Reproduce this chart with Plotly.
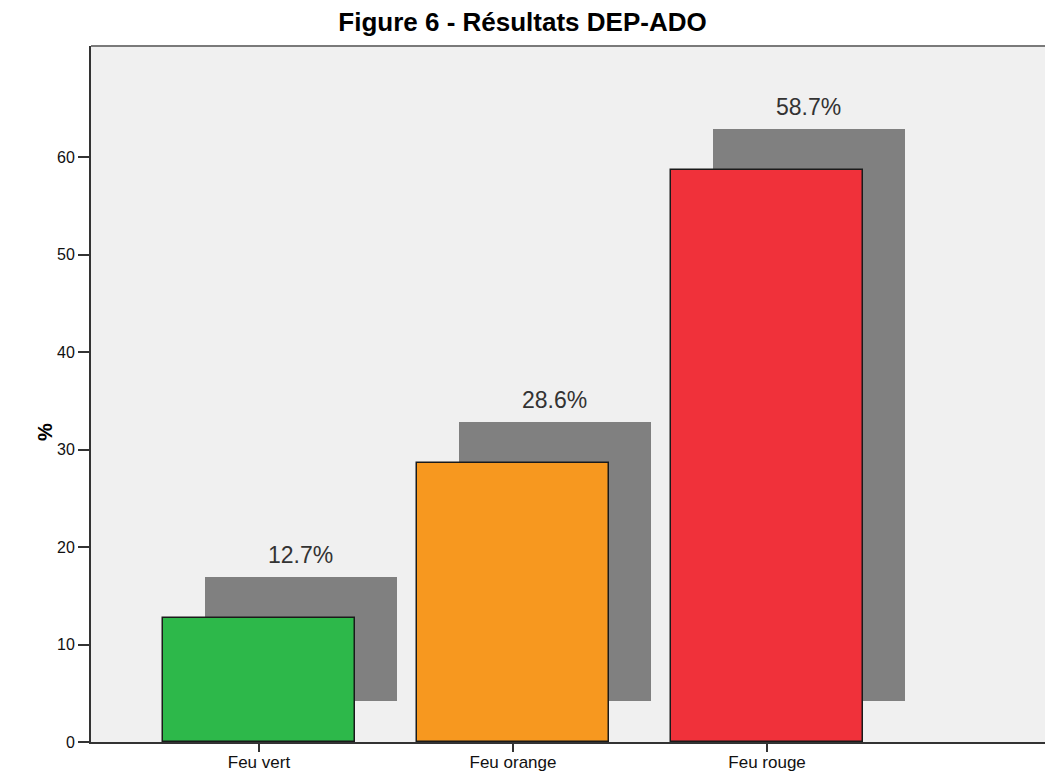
import plotly.graph_objects as go

categories = ["Feu vert", "Feu orange", "Feu rouge"]
values = [12.7, 28.6, 58.7]
labels = ["12.7%", "28.6%", "58.7%"]
colors = ["#2db84a", "#f7981f", "#f0313a"]
y_ticks = [0, 10, 20, 30, 40, 50, 60]

SHADOW_DX = 0.165
SHADOW_DY = 4.2
BAR_W = 0.756

xs = list(range(len(categories)))

fig = go.Figure()
# shadows
fig.add_trace(go.Bar(
    x=[x + SHADOW_DX for x in xs], y=values, base=[SHADOW_DY] * len(values),
    width=BAR_W, marker=dict(color="#808080", line=dict(width=0)),
    hoverinfo="skip", showlegend=False))
# main bars
fig.add_trace(go.Bar(
    x=xs, y=values, width=BAR_W,
    marker=dict(color=colors, line=dict(color="#1a1a1a", width=1.5)),
    showlegend=False))

for x, v, t in zip(xs, values, labels):
    fig.add_annotation(x=x + SHADOW_DX, y=v + SHADOW_DY, text=t, showarrow=False,
                       yanchor="bottom", yshift=7,
                       font=dict(family="Liberation Sans, Arial", size=23, color="#333333"))

fig.add_shape(type="line", xref="paper", yref="paper", x0=0, x1=1, y0=1, y1=1,
              line=dict(color="#7a7a7a", width=2))

fig.add_annotation(xref="paper", yref="paper", x=(45 - 91) / 954, y=(742 - 432) / 696,
                   text="<b>%</b>", textangle=-90, showarrow=False,
                   xanchor="center", yanchor="middle",
                   font=dict(family="Liberation Sans, Arial", size=20, color="#000000"))

fig.update_layout(
    width=1045, height=774,
    margin=dict(l=91, r=0, t=46, b=32, autoexpand=False),
    paper_bgcolor="white", plot_bgcolor="#f0f0f0",
    barmode="overlay", bargap=0,
    title=dict(text="<b>Figure 6 - Résultats DEP-ADO</b>", x=0.5, xref="container",
               xanchor="center", y=1 - 22 / 774, yref="container", yanchor="middle",
               font=dict(family="Liberation Sans, Arial", size=26, color="#000000")),
    font=dict(family="Liberation Sans, Arial", size=16, color="#222222"),
)
fig.update_xaxes(range=[-0.661, 3.094], tickvals=xs, ticktext=categories, automargin=False,
                 showgrid=False, zeroline=False, showline=True, linecolor="#333333",
                 linewidth=2, ticks="outside", ticklen=8, tickwidth=2, tickcolor="#333333",
                 ticklabelstandoff=-4,
                 tickfont=dict(size=17, color="#111111"), fixedrange=True)
fig.update_yaxes(range=[0, 71.4], tickvals=y_ticks, showgrid=False, zeroline=False,
                 automargin=False,
                 showline=True, linecolor="#333333", linewidth=2, ticks="outside",
                 ticklen=11, tickwidth=2, tickcolor="#333333",
                 tickfont=dict(size=16, color="#111111"))

fig.write_html("out.html")
